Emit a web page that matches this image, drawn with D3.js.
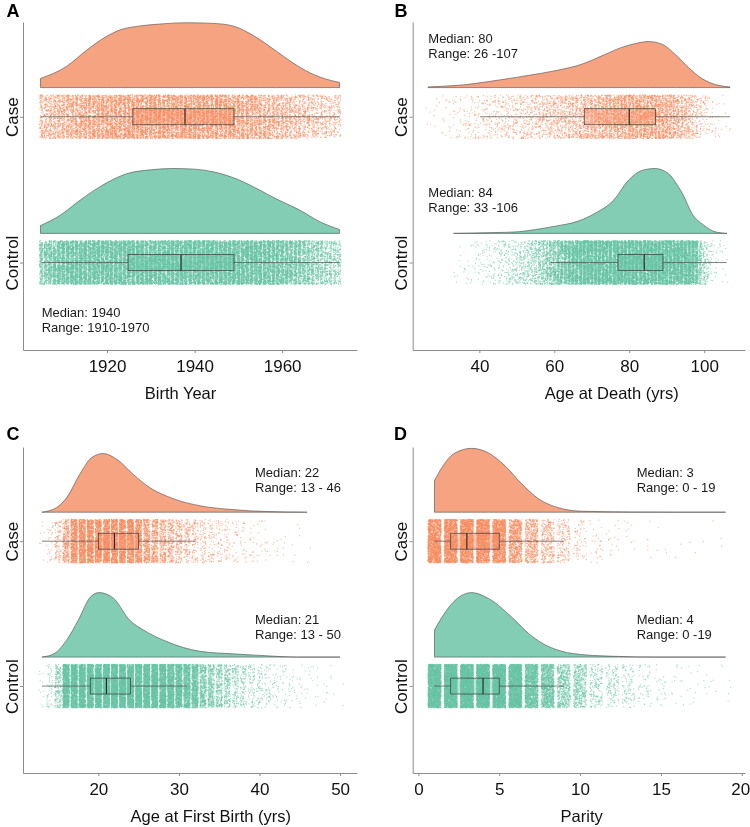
<!DOCTYPE html>
<html><head><meta charset="utf-8">
<script src="https://cdn.jsdelivr.net/npm/d3@7"></script>
<style>
html,body{margin:0;padding:0;background:#fff;}
#wrap{position:relative;width:750px;height:827px;}
#pts{position:absolute;left:0;top:0;}
svg{position:absolute;left:0;top:0;display:block;font-family:"Liberation Sans",Arial,Helvetica,sans-serif;}
</style></head><body>
<div id="wrap">
<canvas id="pts" width="750" height="827"></canvas>
<svg id="chart" width="750" height="827"></svg>
</div>
<script>
// ---------------- DATA ----------------
const categories = ["Case", "Control"];

// Panel A: Birth Year (points per year, starting 1905)
const birthYearStart = 1905;
const birthCaseCounts = [105,115,125,135,145,155,165,175,185,195, 205,212,218,224,230,235,240,244,247,250,
  252,252,252,252,252,252,252,252,252,252, 252,252,252,252,252,252,252,252,252,252,
  250,246,242,236,230,222,214,206,198,190, 180,172,164,156,148,140,132,124,116,108,
  100,94,88,82,77,72,67,63,60];
const birthControlCounts = [220,260,300,340,380,410,430,440,440,440, 440,440,440,440,440,440,440,440,440,440,
  440,440,440,440,440,440,440,440,440,440, 440,440,440,440,440,440,440,440,440,440,
  440,440,440,440,440,440,440,440,440,440, 430,420,410,400,385,370,350,330,305,280,
  255,230,205,185,165,150,135,120,110];
const birthCaseDensity = [[1904.8,0.14],[1910.8,0.33],[1915.4,0.58],[1919.9,0.79],[1923.0,0.89],[1927.5,0.95],
  [1932.1,0.98],[1938.2,1.0],[1944.2,0.99],[1948.8,0.95],[1951.9,0.86],[1954.9,0.74],[1958.7,0.56],
  [1962.5,0.38],[1966.3,0.23],[1970.1,0.13],[1973.1,0.08]];
const birthControlDensity = [[1904.8,0.12],[1909.3,0.28],[1913.8,0.51],[1918.4,0.72],[1924.5,0.92],[1930.0,0.98],
  [1935.1,1.0],[1940.0,0.99],[1944.2,0.95],[1950.3,0.82],[1954.5,0.68],[1958.7,0.53],[1964.0,0.36],
  [1968.6,0.18],[1973.1,0.06]];
const birthCaseBox = [1904.8, 1925.9, 1937.8, 1949.0, 1973.1];    // lo, q1, median, q3, hi
const birthControlBox = [1905.0, 1924.8, 1936.9, 1949.0, 1973.1];
const birthTicks = [1920, 1940, 1960];
const birthNotes = [["Median: 1940", "Range: 1910-1970"]];

// Panel B: Age at Death
const deathCaseStart = 26;
const deathCaseCounts = [2,2,3,3,5,5,7,7,8,10, 12,13,15,17,18,20,22,23,25,27, 28,30,32,33,35,37,40,43,47,50,
  53,57,60,63,67,70,73,77,80,83, 88,93,100,107,113,120,127,133,140,147, 153,160,167,172,177,180,184,185,187,187,
  185,184,180,174,167,157,144,130,117,100, 83,67,50,37,27,18,12,8,5,3, 2,2];
const deathControlStart = 33;
const deathControlCounts = [2,2,4,4,5,7,9,11,13,14, 18,22,25,29,32,38,43,50,58,65,
  72,86,100,119,140,162,189,216,252,288, 324,360,387,414,432,450,450,450,450,450,
  450,450,450,450,450,450,450,450,450,450, 450,450,450,450,450,450,450,450,450,450,
  450,450,450,432,396,324,144,81,45,22, 11,7,4,4];
const deathCaseDensity = [[26.3,0.01],[30.0,0.02],[34.4,0.035],[43.3,0.10],[52.2,0.18],[61.1,0.27],[67.3,0.36],
  [72.7,0.49],[78.0,0.62],[82.5,0.69],[85.1,0.71],[88.7,0.67],[92.3,0.51],[95.8,0.31],[99.4,0.14],
  [103.8,0.035],[106.9,0.01]];
const deathControlDensity = [[33.1,0.0],[38.0,0.005],[44.0,0.012],[50.4,0.025],[55.0,0.06],[60.2,0.11],[66.4,0.19],
  [70.9,0.31],[75.8,0.51],[79.8,0.82],[83.4,0.97],[86.9,1.0],[90.5,0.92],[93.1,0.72],[94.5,0.58],
  [96.7,0.31],[99.8,0.13],[102.9,0.025],[106.1,0.0]];
const deathCaseBox = [40.2, 68, 80, 87, 106.9];
const deathControlBox = [59, 77, 84, 89, 106];
const deathTicks = [40, 60, 80, 100];
const deathNotes = [["Median: 80", "Range: 26 -107"], ["Median: 84", "Range: 33 -106"]];

// Panel C: Age at First Birth
const firstBirthStart = 13;
const firstBirthCaseCounts = [7,26,104,296,661,713,731,731,731,713, 679,644,574,400,330,261,218,174,122,96,
  73,59,47,37,28,21,16,12,10,7, 5,3,3,2];
const firstBirthControlCounts = [11,48,190,1064,1140,1140,1140,1140,1140,1140, 1140,1140,1140,1140,1140,1140,1007,950,855,741,
  437,342,266,209,143,105,80,61,46,30, 23,17,13,10,8,6,4,2];
const firstBirthCaseDensity = [[13.0,0],[14.8,0.07],[16.1,0.23],[17.7,0.59],[19.2,0.85],[20.6,0.91],[22.3,0.82],
  [24.3,0.59],[26.4,0.38],[29.3,0.21],[32.6,0.10],[36.7,0.04],[40.9,0.01],[45.9,0]];
const firstBirthControlDensity = [[13.0,0],[14.6,0.06],[16.1,0.27],[17.5,0.57],[19.0,0.93],[20.1,1.0],[21.9,0.91],
  [23.9,0.57],[25.6,0.42],[28.5,0.24],[32.6,0.09],[36.7,0.05],[40.9,0.02],[44.6,0.0],[50.0,0.0]];
const firstBirthCaseBox = [13, 20, 22, 25, 32];
const firstBirthControlBox = [13, 19, 21, 24, 31];
const firstBirthTicks = [20, 30, 40, 50];
const firstBirthNotes = [["Median: 22", "Range: 13 - 46"], ["Median: 21", "Range: 13 - 50"]];

// Panel D: Parity
const parityStart = 1;
const parityCaseCounts = [1464,1464,1464,1464,1409,824,512,293,165,64, 29,16,9,5,4,2,2,2,2];
const parityControlCounts = [2470,2470,2470,2470,2470,2375,1520,1140,570,475, 180,133,99,49,25,15,11,8,6];
const parityCaseDensity = [[1.0,0.49],[1.45,0.69],[2.27,0.92],[3.3,0.99],[4.33,0.92],[5.36,0.72],[6.39,0.44],
  [7.42,0.21],[8.66,0.07],[10.1,0.015],[13.2,0.003],[16.0,0],[19.0,0]];
const parityControlDensity = [[1.0,0.42],[1.34,0.57],[2.27,0.88],[3.3,1.0],[4.33,0.91],[5.98,0.57],[6.8,0.37],
  [7.63,0.22],[8.87,0.09],[10.3,0.035],[12.4,0.01],[14.7,0],[19.0,0]];
const parityCaseBox = [1, 2, 3, 5, 9];
const parityControlBox = [1, 2, 4, 5, 9];
const parityTicks = [0, 5, 10, 15, 20];
const parityNotes = [["Median: 3", "Range: 0 - 19"], ["Median: 4", "Range: 0 -19"]];

// ---------------- LAYOUT / STYLE ----------------
const densityFill = ["#F6A382", "#84CDB5"];
const pointColor = ["#F68A5E", "#68C3A5"];
const boxFill = ["#F68A5E", "#68C3A5"];

const panels = [
  {label:"A", lx:6.5, ly:17, left:23, right:357, top:22, bottom:350, domain:[1900.8,1977.1], ticks:birthTicks,
   title:"Birth Year", tx:180.5, ty:399,
   groups:[{start:birthYearStart, counts:birthCaseCounts, dens:birthCaseDensity, box:birthCaseBox},
           {start:birthYearStart, counts:birthControlCounts, dens:birthControlDensity, box:birthControlBox}],
   notes:[{lines:birthNotes[0], x:41.7, y:316.5}]},
  {label:"B", lx:394.5, ly:17, left:412.7, right:745, top:22, bottom:350, domain:[22.2,110.9], ticks:deathTicks,
   title:"Age at Death (yrs)", tx:611.7, ty:399,
   groups:[{start:deathCaseStart, counts:deathCaseCounts, dens:deathCaseDensity, box:deathCaseBox},
           {start:deathControlStart, counts:deathControlCounts, dens:deathControlDensity, box:deathControlBox}],
   notes:[{lines:deathNotes[0], x:428.3, y:43}, {lines:deathNotes[1], x:428.3, y:196.5}]},
  {label:"C", lx:6.5, ly:440, left:23, right:357, top:447, bottom:773, domain:[10.65,52.1], ticks:firstBirthTicks,
   title:"Age at First Birth (yrs)", tx:210.8, ty:822,
   groups:[{start:firstBirthStart, counts:firstBirthCaseCounts, dens:firstBirthCaseDensity, box:firstBirthCaseBox},
           {start:firstBirthStart, counts:firstBirthControlCounts, dens:firstBirthControlDensity, box:firstBirthControlBox}],
   notes:[{lines:firstBirthNotes[0], x:255, y:476.5}, {lines:firstBirthNotes[1], x:255, y:624}]},
  {label:"D", lx:394, ly:440, left:412.7, right:745, top:447, bottom:773, domain:[-0.35,20.2], ticks:parityTicks,
   title:"Parity", tx:581.7, ty:822,
   groups:[{start:parityStart, counts:parityCaseCounts, dens:parityCaseDensity, box:parityCaseBox},
           {start:parityStart, counts:parityControlCounts, dens:parityControlDensity, box:parityControlBox}],
   notes:[{lines:parityNotes[0], x:636.7, y:476.5}, {lines:parityNotes[1], x:636.7, y:624}]}
];

// deterministic jitter generator (visual jitter only, like geom_jitter)
function mulberry32(a){return function(){a|=0;a=a+0x6D2B79F5|0;let t=Math.imul(a^a>>>15,1|a);
  t=t+Math.imul(t^t>>>7,61|t)^t;return((t^t>>>14)>>>0)/4294967296;};}
const rand = mulberry32(12345);

const svg = d3.select("#chart");
const ctx = document.getElementById("pts").getContext("2d");
const DENS_BASE = 0.2, DENS_H = 0.445, JIT_Y = 0.15, JIT_X = 0.4, BOX_H = 0.055, DOT = 1.1;

panels.forEach(p => {
  const g = svg.append("g");
  const x = d3.scaleLinear().domain(p.domain).range([p.left, p.right]);
  const y = d3.scaleLinear().domain([0.35, 2.6]).range([p.top, p.bottom]);

  p.groups.forEach((grp, gi) => {
    const cat = gi + 1;
    const base = cat - DENS_BASE;
    // half violin density
    const area = d3.area()
      .x(d => x(d[0]))
      .y0(y(base))
      .y1(d => y(base - d[1] * DENS_H))
      .curve(d3.curveMonotoneX);
    g.append("path").attr("d", area(grp.dens))
      .attr("fill", densityFill[gi]).attr("stroke", "#4a4a4a").attr("stroke-width", 0.6);

    // jittered points (canvas layer under the svg)
    ctx.globalAlpha = 0.6;
    ctx.fillStyle = pointColor[gi];
    grp.counts.forEach((c, i) => {
      const v = grp.start + i;
      for (let k = 0; k < c; k++) {
        const px = x(v + (rand() * 2 - 1) * JIT_X) - DOT / 2;
        const py = y(cat + (rand() * 2 - 1) * JIT_Y) - DOT / 2;
        ctx.fillRect(px, py, DOT, DOT);
      }
    });

    // boxplot
    const [lo, q1, med, q3, hi] = grp.box;
    const yc = y(cat);
    g.append("line").attr("x1", x(lo)).attr("x2", x(q1)).attr("y1", yc).attr("y2", yc)
      .attr("stroke", "#4d4d4d").attr("stroke-width", 0.7);
    g.append("line").attr("x1", x(q3)).attr("x2", x(hi)).attr("y1", yc).attr("y2", yc)
      .attr("stroke", "#4d4d4d").attr("stroke-width", 0.7);
    g.append("rect").attr("x", x(q1)).attr("width", x(q3) - x(q1))
      .attr("y", y(cat - BOX_H)).attr("height", y(cat + BOX_H) - y(cat - BOX_H))
      .attr("fill", boxFill[gi]).attr("fill-opacity", 0.45)
      .attr("stroke", "#3a3a3a").attr("stroke-width", 0.7);
    g.append("line").attr("x1", x(med)).attr("x2", x(med))
      .attr("y1", y(cat - BOX_H)).attr("y2", y(cat + BOX_H))
      .attr("stroke", "#222").attr("stroke-width", 1.1);
  });

  // annotations
  p.notes.forEach(n => {
    n.lines.forEach((t, li) => {
      g.append("text").attr("x", n.x).attr("y", n.y + li * 15).text(t)
        .attr("font-size", 13).attr("fill", "#1a1a1a");
    });
  });

  // axes
  const xa = g.append("g").attr("transform", `translate(0,${p.bottom})`)
    .call(d3.axisBottom(x).tickValues(p.ticks).tickFormat(d3.format("d")).tickSize(3).tickSizeOuter(0).tickPadding(6.5));
  const ya = g.append("g").attr("transform", `translate(${p.left},0)`)
    .call(d3.axisLeft(y).tickValues([1, 2]).tickFormat(d => categories[d - 1]).tickSize(3).tickSizeOuter(0));
  [xa, ya].forEach(a => {
    a.select(".domain").attr("stroke", "#8c8c8c").attr("stroke-width", 1);
    a.selectAll(".tick line").attr("stroke", "#8c8c8c");
    a.selectAll("text").attr("font-size", 17).attr("fill", "#111")
      .attr("font-family", '"Liberation Sans",Arial,Helvetica,sans-serif');
  });
  // keep the last tick label of the right panels inside the page
  xa.selectAll(".tick text").filter(d => x(d) + 10 > 750).attr("dx", -1.6);
  ya.selectAll(".tick text").attr("x", null).attr("dy", null)
    .attr("transform", "translate(-5.5,0) rotate(-90)").attr("text-anchor", "middle");

  // axis title
  g.append("text").attr("x", p.tx).attr("y", p.ty).attr("text-anchor", "middle")
    .attr("font-size", 16.5).attr("fill", "#111").text(p.title);

  // panel letter
  g.append("text").attr("x", p.lx).attr("y", p.ly).attr("font-size", 18).attr("font-weight", "bold")
    .attr("fill", "#000").text(p.label);
});
</script>
</body></html>
